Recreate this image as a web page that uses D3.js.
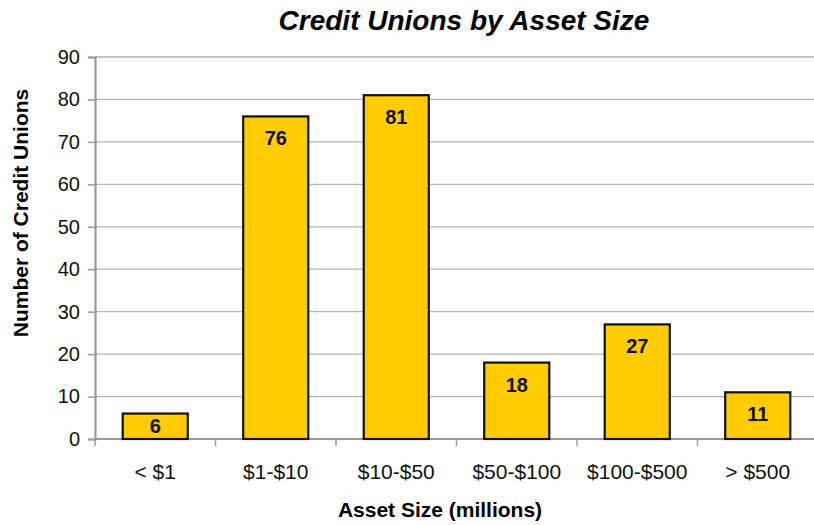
<!DOCTYPE html>
<html>
<head>
<meta charset="utf-8">
<script src="https://cdn.jsdelivr.net/npm/d3@7"></script>
<style>
  html, body { margin: 0; padding: 0; background: #fff; }
  svg { display: block; font-family: "Liberation Sans", Arial, sans-serif; }
</style>
</head>
<body>
<svg id="chart" width="814" height="525"></svg>
<script>
// Chart data
const categories = ["< $1", "$1-$10", "$10-$50", "$50-$100", "$100-$500", "> $500"];
const creditUnions = [6, 76, 81, 18, 27, 11];
const yTicks = [0, 10, 20, 30, 40, 50, 60, 70, 80, 90];

const chartTitle = "Credit Unions by Asset Size";
const xTitle = "Asset Size (millions)";
const yTitle = "Number of Credit Unions";

const svg = d3.select("#chart");
const plot = { left: 95, right: 818, top: 57, bottom: 439 };

const x = d3.scaleBand()
  .domain(categories)
  .range([plot.left, plot.right])
  .paddingInner(0.46)
  .paddingOuter(0.23);

const y = d3.scaleLinear()
  .domain([0, 90])
  .range([plot.bottom, plot.top]);

// Horizontal gridlines
svg.append("g")
  .selectAll("line")
  .data(yTicks.filter(d => d > 0))
  .join("line")
  .attr("x1", plot.left)
  .attr("x2", plot.right)
  .attr("y1", d => y(d))
  .attr("y2", d => y(d))
  .attr("stroke", "#b3b3b3")
  .attr("stroke-width", 1.3);

// Y axis
const yAxis = svg.append("g")
  .attr("transform", `translate(${plot.left},0)`)
  .call(d3.axisLeft(y).tickValues(yTicks).tickSize(7).tickPadding(8));
yAxis.select(".domain").attr("stroke", "#999").attr("stroke-width", 2.2);
yAxis.selectAll(".tick line").attr("stroke", "#999").attr("stroke-width", 1.5);
yAxis.selectAll(".tick text")
  .attr("fill", "#111")
  .style("font-size", "20px")
  .style("font-family", "Liberation Sans, Arial, sans-serif");

// X axis with ticks at band boundaries
const bandEdges = categories.map(c => x(c) - x.step() * x.paddingInner() / 2);
bandEdges.push(plot.right);
const xAxisG = svg.append("g");
xAxisG.append("line")
  .attr("x1", plot.left).attr("x2", plot.right)
  .attr("y1", plot.bottom).attr("y2", plot.bottom)
  .attr("stroke", "#999").attr("stroke-width", 2.2);
xAxisG.selectAll("line.tick")
  .data(bandEdges)
  .join("line")
  .attr("class", "tick")
  .attr("x1", d => d).attr("x2", d => d)
  .attr("y1", plot.bottom).attr("y2", plot.bottom + 7)
  .attr("stroke", "#999").attr("stroke-width", 1.5);
xAxisG.selectAll("text")
  .data(categories)
  .join("text")
  .attr("x", d => x(d) + x.bandwidth() / 2)
  .attr("y", 479)
  .attr("text-anchor", "middle")
  .attr("fill", "#111")
  .style("font-size", "21px")
  .text(d => d);

// Bars
const rows = categories.map((c, i) => ({ cat: c, value: creditUnions[i] }));
svg.append("g")
  .selectAll("rect")
  .data(rows)
  .join("rect")
  .attr("x", d => x(d.cat))
  .attr("y", d => y(d.value))
  .attr("width", x.bandwidth())
  .attr("height", d => y(0) - y(d.value))
  .attr("fill", "#FFCC00")
  .attr("stroke", "#111")
  .attr("stroke-width", 2.2);

// Value labels inside the bars
svg.append("g")
  .selectAll("text")
  .data(rows)
  .join("text")
  .attr("x", d => x(d.cat) + x.bandwidth() / 2)
  .attr("y", d => Math.min(y(d.value) + 29, y(0) - 6))
  .attr("text-anchor", "middle")
  .attr("fill", "#111")
  .style("font-size", "20px")
  .style("font-weight", "bold")
  .text(d => d.value);

// Titles
svg.append("text")
  .attr("x", 464)
  .attr("y", 30)
  .attr("text-anchor", "middle")
  .style("font-size", "28px")
  .style("font-weight", "bold")
  .style("font-style", "italic")
  .attr("fill", "#000")
  .text(chartTitle);

svg.append("text")
  .attr("x", 440)
  .attr("y", 517)
  .attr("text-anchor", "middle")
  .style("font-size", "21px")
  .style("font-weight", "bold")
  .attr("fill", "#000")
  .text(xTitle);

svg.append("text")
  .attr("transform", "translate(28,213) rotate(-90)")
  .attr("text-anchor", "middle")
  .style("font-size", "21px")
  .style("font-weight", "bold")
  .attr("fill", "#000")
  .text(yTitle);
</script>
</body>
</html>
